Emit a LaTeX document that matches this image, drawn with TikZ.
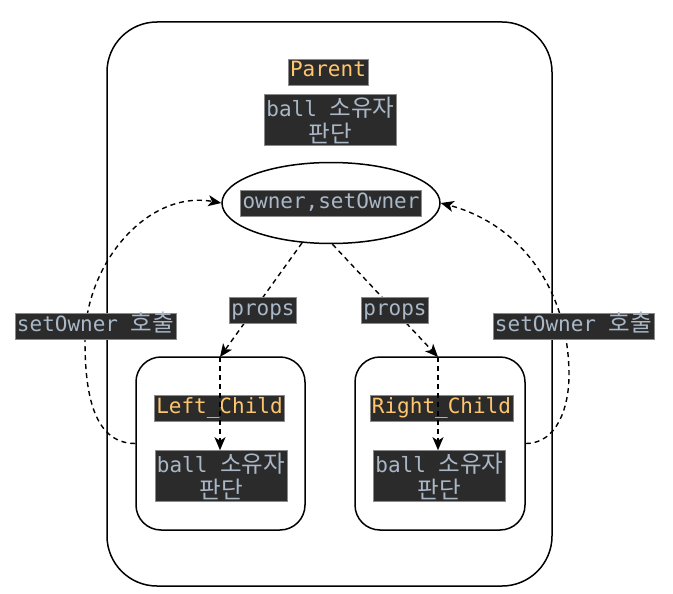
\documentclass[tikz,border=0pt]{standalone}
\usepackage{fontspec}
\setmonofont{DejaVu Sans Mono}
\newfontfamily\kr[Scale=1.12]{Noto Sans CJK KR}
\usetikzlibrary{shapes.geometric,arrows.meta}
\definecolor{lblbg}{HTML}{2B2B2B}
\definecolor{lblbd}{HTML}{8A8A8A}
\definecolor{orng}{HTML}{FFC66D}
\definecolor{bluish}{HTML}{A9B7C6}
\tikzset{
  lblbase/.style={fill=lblbg, draw=lblbd, line width=0.8pt, text=bluish, inner xsep=2pt,
    font=\fontsize{21}{26}\selectfont\ttfamily, align=center},
  lbl/.style={lblbase, inner ysep=3pt, text height=15pt, text depth=5pt},
  title/.style={lbl, text=orng},
  twoline/.style={lblbase, inner ysep=2pt},
  frame/.style={draw, line width=1.5pt, rounded corners=#1, fill=white},
  dashline/.style={draw, line width=1.4pt, dash pattern=on 5pt off 4pt, -{Stealth[length=13pt,width=11pt,inset=3.5pt]}},
}
\begin{document}
\begin{tikzpicture}[x=1pt,y=-1pt]
\useasboundingbox (0,0) rectangle (673,594);
% Parent frame
\node[frame=50pt, minimum width=445pt, minimum height=564pt] (parent) at (329.5,304) {};
\node[title] (ptitle) at (328,72) {Parent};
\node[twoline] (pball) at (330.5,120) {ball {\kr 소유자}\\{\kr 판단}};
% ellipse
\node[ellipse, draw, line width=1.5pt, fill=white, minimum width=218pt, minimum height=81pt] (ell) at (331,203) {};
\node[lbl] (own) at (ell) {owner,setOwner};
% children
\node[frame=25pt, minimum width=169pt, minimum height=173pt] (lc) at (220.5,443.5) {};
\node[frame=25pt, minimum width=170pt, minimum height=173pt] (rc) at (440,443.5) {};
\node[title] (ltitle) at (219.5,408) {Left\_Child};
\node[twoline] (lball) at (221,476) {ball {\kr 소유자}\\{\kr 판단}};
\node[title] (rtitle) at (441.5,408) {Right\_Child};
\node[twoline] (rball) at (439.5,476) {ball {\kr 소유자}\\{\kr 판단}};
\coordinate (ltop) at (220,357);
\coordinate (rtop) at (438,357);
% props arrows
\path[dashline] (ell.234) -- (ltop);
\path[dashline] (ell.272) -- (rtop);
\path[dashline] (ltop) -- (lball.north -| ltop);
\path[dashline] (rtop) -- (rball.north -| rtop);
\node[lbl] (lprops) at (263,310) {props};
\node[lbl] (rprops) at (395,310) {props};
% setOwner curves
\coordinate (lmid) at (85,340);
\coordinate (rmid) at (569,375);
\path[dashline] (lc.west) to[out=180,in=270] (lmid) to[out=90,in=170] (ell.west);
\path[dashline] (rc.east) to[out=0,in=270] (rmid) to[out=90,in=-15] (ell.east);
\node[lbl] (lcall) at (95.5,326) {setOwner {\kr 호출}};
\node[lbl] (rcall) at (573.5,326) {setOwner {\kr 호출}};
\end{tikzpicture}
\end{document}
